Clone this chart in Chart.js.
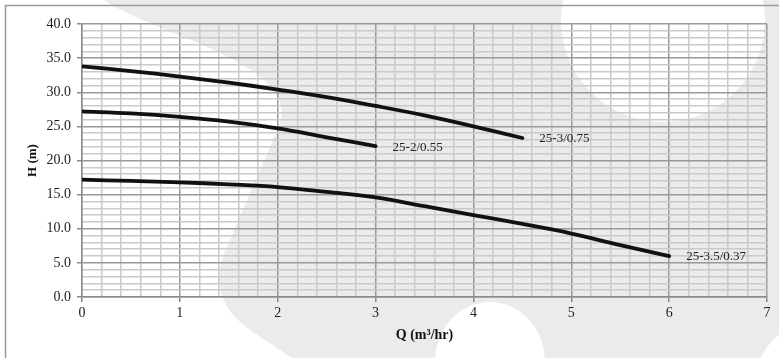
<!DOCTYPE html>
<html>
<head>
<meta charset="utf-8">
<script src="https://cdn.jsdelivr.net/npm/chart.js@4"></script>
<style>
    body { margin: 0; background: #fff; }
    canvas { display: block; }
</style>
</head>
<body>
<canvas id="pumpChart" width="779" height="358"></canvas>
<script>
// flow points (m3/hr)
const flowQ = [0, 0.5, 1, 1.5, 2, 2.5, 3, 3.5, 4, 4.5, 5, 5.5, 6];

// head values (m)
const head_25_3_075 = [33.8, 33.1, 32.3, 31.4, 30.4, 29.3, 28.0, 26.6, 25.0, 23.3];
const head_25_2_055 = [27.2, 26.9, 26.4, 25.7, 24.7, 23.4, 22.1];
const head_25_35_037 = [17.2, 17.0, 16.8, 16.5, 16.1, 15.4, 14.6, 13.3, 12.0, 10.7, 9.3, 7.6, 6.0];

const seriesNames = ["25-3/0.75", "25-2/0.55", "25-3.5/0.37"];
const seriesHeads = [head_25_3_075, head_25_2_055, head_25_35_037];

const xTickLabels = ["0", "1", "2", "3", "4", "5", "6", "7"];
const yTickLabels = ["0.0", "5.0", "10.0", "15.0", "20.0", "25.0", "30.0", "35.0", "40.0"];

const serif = "'Liberation Serif', 'Times New Roman', serif";

function isWhole(v, step) {
    const r = v / step;
    return Math.abs(r - Math.round(r)) < 1e-6;
}

// light grey fan logo behind the chart + outer frame
const watermark = {
    id: "watermark",
    beforeDraw(chart) {
        const c = chart.ctx;
        const w = chart.width, h = chart.height;
        c.save();
        c.fillStyle = "#ebebeb";
        c.fillRect(0, 0, w, h);
        c.fillStyle = "#ffffff";
        // left white part
        c.beginPath();
        c.moveTo(0, 0);
        c.lineTo(104, 0);
        c.bezierCurveTo(145, 28, 240, 50, 272, 88);
        c.quadraticCurveTo(286, 105, 279, 126);
        c.lineTo(223, 256);
        c.quadraticCurveTo(208, 300, 250, 330);
        c.lineTo(292, 358);
        c.lineTo(0, 358);
        c.closePath();
        c.fill();
        // top right circle
        c.beginPath();
        c.arc(663, 20, 102, 0, Math.PI * 2);
        c.fill();
        // bottom bulge
        c.beginPath();
        c.ellipse(490, 362, 55, 60, 0, 0, Math.PI * 2);
        c.fill();
        // bottom right corner
        c.beginPath();
        c.arc(820, 385, 65, 0, Math.PI * 2);
        c.fill();
        // frame
        c.strokeStyle = "#9a9a9a";
        c.lineWidth = 1.5;
        c.strokeRect(5.5, 5.5, 900, 500);
        c.restore();
    }
};

// model names at the end of each curve
const curveLabels = {
    id: "curveLabels",
    afterDatasetsDraw(chart) {
        const c = chart.ctx;
        const xs = chart.scales.x, ys = chart.scales.y;
        c.save();
        c.font = "13px " + serif;
        c.fillStyle = "#222";
        c.textBaseline = "middle";
        seriesHeads.forEach(function (heads, i) {
            const last = heads.length - 1;
            const px = xs.getPixelForValue(flowQ[last]);
            const py = ys.getPixelForValue(heads[last]);
            c.fillText(seriesNames[i], px + 17, py + 1);
        });
        c.restore();
    }
};

const datasets = seriesHeads.map(function (heads, i) {
    return {
        label: seriesNames[i],
        data: heads.map((v, j) => ({ x: flowQ[j], y: v })),
        borderColor: "#111",
        borderWidth: 3.8,
        pointRadius: 0,
        showLine: true,
        fill: false,
        tension: 0.4,
        borderCapStyle: "round"
    };
});

new Chart(document.getElementById("pumpChart"), {
    type: "scatter",
    data: { datasets: datasets },
    plugins: [watermark, curveLabels],
    options: {
        responsive: false,
        animation: false,
        devicePixelRatio: 1,
        layout: { padding: { left: 0, top: 24, right: 12, bottom: 0 } },
        plugins: {
            legend: { display: false },
            tooltip: { enabled: false }
        },
        scales: {
            x: {
                type: "linear",
                min: 0,
                max: 7,
                afterFit: (scale) => { scale.height = 61; },
                ticks: {
                    stepSize: 0.2,
                    autoSkip: false,
                    maxRotation: 0,
                    padding: 3,
                    color: "#222",
                    font: { family: serif, size: 14 },
                    callback: (v) => isWhole(v, 1) ? xTickLabels[Math.round(v)] : ""
                },
                grid: {
                    color: (ctx) => isWhole(ctx.tick.value, 1) ? "#9a9a9a" : "#cacaca",
                    tickColor: (ctx) => isWhole(ctx.tick.value, 1) ? "#8a8a8a" : "rgba(0,0,0,0)",
                    lineWidth: 1.5,
                    tickLength: 5
                },
                border: { color: "#8a8a8a", width: 1.5 },
                title: {
                    display: true,
                    text: "Q (m³/hr)",
                    color: "#111",
                    font: { family: serif, size: 14, weight: "bold" },
                    padding: { top: 0, bottom: 14 }
                }
            },
            y: {
                type: "linear",
                min: 0,
                max: 40,
                afterFit: (scale) => { scale.width = 82; },
                ticks: {
                    stepSize: 1,
                    autoSkip: false,
                    padding: 6,
                    color: "#222",
                    font: { family: serif, size: 14 },
                    callback: (v) => isWhole(v, 5) ? yTickLabels[Math.round(v / 5)] : ""
                },
                grid: {
                    color: (ctx) => isWhole(ctx.tick.value, 5) ? "#9a9a9a" : "#cacaca",
                    tickColor: (ctx) => isWhole(ctx.tick.value, 5) ? "#8a8a8a" : "rgba(0,0,0,0)",
                    lineWidth: 1.5,
                    tickLength: 5
                },
                border: { color: "#8a8a8a", width: 1.5 },
                title: {
                    display: true,
                    text: "H (m)",
                    color: "#111",
                    font: { family: serif, size: 13, weight: "bold" },
                    padding: { top: 25, bottom: 0 }
                }
            }
        }
    }
});
</script>
</body>
</html>
